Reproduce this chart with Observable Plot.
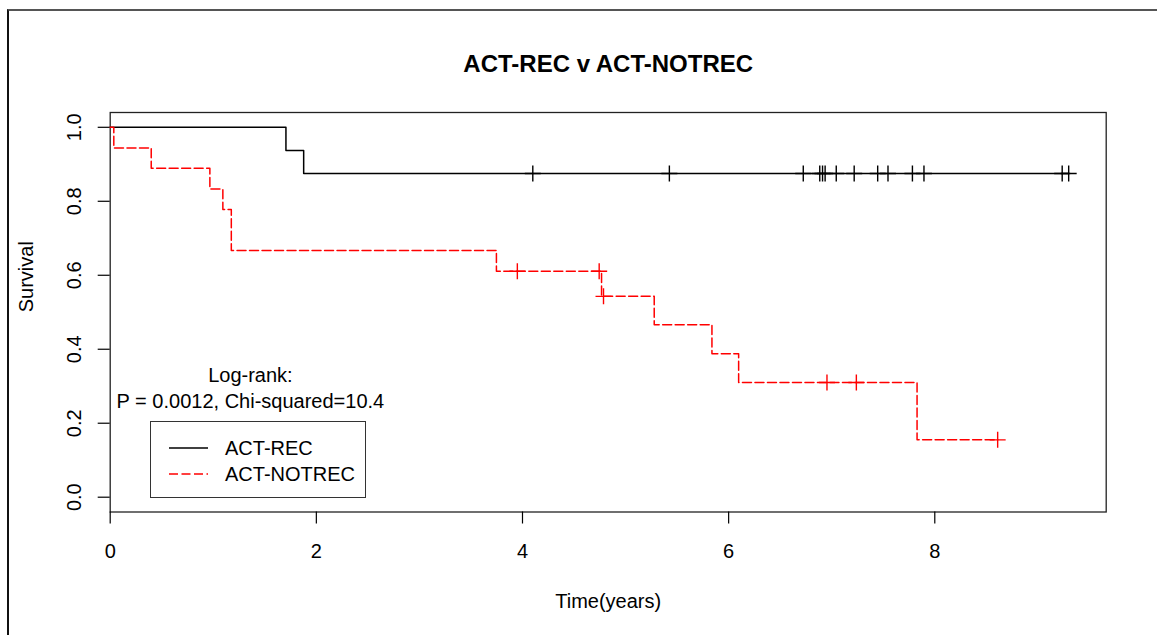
<!DOCTYPE html>
<html>
<head>
<meta charset="utf-8">
<script src="https://cdn.jsdelivr.net/npm/d3@7"></script>
<script src="https://cdn.jsdelivr.net/npm/@observablehq/plot@0.6"></script>
<style>
  html, body { margin: 0; padding: 0; background: #fff; }
  #wrap { position: relative; width: 1157px; height: 635px; overflow: hidden; font-family: 'Liberation Sans', Arial, sans-serif; }
  #border { position: absolute; left: 7px; top: 9px; width: 1200px; height: 700px; border-left: 2px solid #111; border-top: 2px solid #555; pointer-events: none; }
  #legend { position: absolute; left: 150px; top: 421px; width: 214px; height: 75px; border: 1.3px solid #333; box-sizing: content-box; font-size: 20px; color: #000; }
  .lg-row { position: absolute; left: 0; height: 26px; display: flex; align-items: center; }
  .lg-row svg { margin-left: 18px; margin-right: 17px; }
</style>
</head>
<body>
<div id="wrap"><div id="chart"></div><div id="border"></div><div id="legend"></div></div>
<script>
// ---- data ----
const title = "ACT-REC v ACT-NOTREC";
const xLabel = "Time(years)";
const yLabel = "Survival";
const seriesNames = ["ACT-REC", "ACT-NOTREC"];
const seriesColors = ["#000000", "#ff0000"];

// ACT-REC Kaplan-Meier steps
const timeRec = [0, 1.705, 1.877, 9.299];
const survRec = [1, 0.9375, 0.875, 0.875];
const censorRecTime = [4.10, 5.425, 6.724, 6.884, 6.911, 6.936, 7.044, 7.218, 7.446, 7.546, 7.783, 7.895, 9.236, 9.299];
const censorRecSurv = [0.875, 0.875, 0.875, 0.875, 0.875, 0.875, 0.875, 0.875, 0.875, 0.875, 0.875, 0.875, 0.875, 0.875];

// ACT-NOTREC Kaplan-Meier steps
const timeNot = [0, 0.035, 0.398, 0.967, 1.093, 1.175, 3.747, 4.767, 5.278, 5.838, 6.097, 7.828, 8.61];
const survNot = [1, 0.944, 0.889, 0.833, 0.778, 0.667, 0.611, 0.543, 0.466, 0.388, 0.310, 0.155, 0.155];
const censorNotTime = [3.95, 4.744, 4.786, 6.954, 7.239, 8.61];
const censorNotSurv = [0.611, 0.611, 0.543, 0.310, 0.310, 0.155];

const xTicks = [0, 2, 4, 6, 8];
const yTicks = [0, 0.2, 0.4, 0.6, 0.8, 1.0];
const annotationText = ["Log-rank:", "P = 0.0012, Chi-squared=10.4"];
const annotationPos = [1.36, 0.2424];

// ---- build tables ----
const rec = timeRec.map((t, i) => ({t, s: survRec[i]}));
const notrec = timeNot.map((t, i) => ({t, s: survNot[i]}));
const cRec = censorRecTime.map((t, i) => ({t, s: censorRecSurv[i]}));
const cNot = censorNotTime.map((t, i) => ({t, s: censorNotSurv[i]}));

const plusSymbol = {
  draw(ctx, size) {
    const r = Math.sqrt(size / Math.PI);
    ctx.moveTo(-r, 0); ctx.lineTo(r, 0);
    ctx.moveTo(0, -r); ctx.lineTo(0, r);
  }
};

const chart = Plot.plot({
  width: 1157,
  height: 635,
  marginLeft: 109.7,
  marginRight: 51.3,
  marginTop: 112,
  marginBottom: 123.5,
  x: {domain: [0, 9.663]},
  y: {domain: [-0.04, 1.04]},
  style: {fontFamily: "'Liberation Sans', Arial, sans-serif", fontSize: "20px", color: "#000", background: "transparent", overflow: "visible"},
  marks: [
    Plot.frame({stroke: "#222", strokeWidth: 1.3}),
    Plot.axisX({ticks: xTicks, tickSize: 12, tickPadding: 20, label: null, strokeWidth: 1.2}),
    Plot.axisY({ticks: yTicks, tickSize: 12, tickPadding: 17, tickRotate: -90, tickFormat: d3.format(".1f"), label: null, strokeWidth: 1.2}),
    Plot.line(rec, {x: "t", y: "s", curve: "step-after", stroke: seriesColors[0], strokeWidth: 1.5}),
    Plot.line(notrec, {x: "t", y: "s", curve: "step-after", stroke: seriesColors[1], strokeWidth: 1.5, strokeDasharray: "9,3.5"}),
    Plot.dot(cRec, {x: "t", y: "s", symbol: plusSymbol, r: 8, stroke: seriesColors[0], strokeWidth: 1.4}),
    Plot.dot(cNot, {x: "t", y: "s", symbol: plusSymbol, r: 8, stroke: seriesColors[1], strokeWidth: 1.4}),
    Plot.text([annotationText.join("\n")], {x: () => annotationPos[0], y: () => annotationPos[1], lineAnchor: "bottom", lineHeight: 1.3, fontSize: 20, fill: "#000"}),
    Plot.text([title], {frameAnchor: "top", dy: -41, lineAnchor: "bottom", fontSize: 24, fontWeight: "bold", fill: "#000"}),
    Plot.text([xLabel], {frameAnchor: "bottom", dy: 95.5, lineAnchor: "bottom", fontSize: 20, fill: "#000"}),
    Plot.text([yLabel], {frameAnchor: "left", dx: -77.7, rotate: -90, lineAnchor: "bottom", fontSize: 20, fill: "#000"})
  ]
});
document.getElementById("chart").appendChild(chart);

// ---- legend (inside the plot, bottom-left) ----
const legend = document.getElementById("legend");
seriesNames.forEach((name, i) => {
  const row = document.createElement("div");
  row.className = "lg-row";
  row.style.top = (13 + i * 26) + "px";
  const dash = i === 1 ? ' stroke-dasharray="9,3.5"' : '';
  row.innerHTML = `<svg width="39" height="4"><line x1="0" x2="39" y1="2" y2="2" stroke="${seriesColors[i]}" stroke-width="1.5"${dash}/></svg><span>${name}</span>`;
  legend.appendChild(row);
});
</script>
</body>
</html>
